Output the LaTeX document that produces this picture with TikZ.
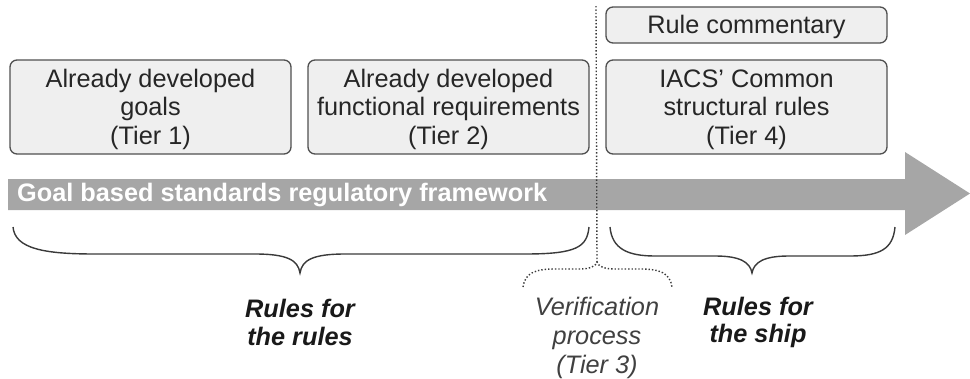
\documentclass[tikz,border=0pt]{standalone}
\usepackage{fontspec}
\setmainfont{Liberation Sans}
\definecolor{boxfill}{HTML}{EFEFEF}
\definecolor{boxline}{HTML}{505050}
\definecolor{arrowgray}{HTML}{A6A6A6}
\definecolor{bracecol}{HTML}{3A3A3A}
\newcommand{\boxtxt}[1]{\raisebox{-3pt}[\height][\depth]{\begin{tabular}{@{}c@{}}#1\end{tabular}}}
\begin{document}
\begin{tikzpicture}[x=1pt,y=-1pt,
  tierbox/.style={draw=boxline, fill=boxfill, line width=1.3pt, rounded corners=7pt,
    minimum width=281pt, inner sep=0pt, text=black!85,
    font=\fontsize{25.3}{28.5}\selectfont},
  bracepath/.style={draw=bracecol, line width=1.4pt},
  lbl/.style={align=center, inner sep=0pt, text=black!90}]
\useasboundingbox (0,0) rectangle (970,378);
% arrow
\path[fill=arrowgray] (8,179) -- (905,179) -- (905,152) -- (970,193.5) -- (905,235) -- (905,210) -- (8,210) -- cycle;
\node[anchor=west, inner sep=0pt, text=white, font=\fontsize{25.3}{28}\selectfont\bfseries] (gbs) at (17,195.5) {Goal based standards regulatory framework};
% boxes
\node[tierbox, minimum height=94pt] (t1) at (150.5,107) {\boxtxt{Already developed\\goals\\(Tier 1)}};
\node[tierbox, minimum height=94pt] (t2) at (448.5,107) {\boxtxt{Already developed\\functional requirements\\(Tier 2)}};
\node[tierbox, minimum height=94pt] (t4) at (746.5,107) {\boxtxt{IACS' Common\\structural rules\\(Tier 4)}};
\node[tierbox, minimum height=36pt] (rc) at (746.5,25) {\boxtxt{Rule commentary}};
% dotted divider
\coordinate (vtop) at (596,6);
\coordinate (vbot) at (597,262);
\draw[draw=bracecol, line width=1.4pt, dash pattern=on 1.4pt off 2pt] (vtop) -- (vbot);
% brace: rules for the rules
\coordinate (b1l) at (13,227);
\coordinate (b1r) at (589,227);
\coordinate (b1t) at (300,273);
\draw[bracepath] (b1l) .. controls (15,249) and (45,254) .. (95,254) -- (255,254)
  .. controls (287,254) and (298,260) .. (b1t)
  .. controls (302,260) and (313,254) .. (345,254) -- (525,254)
  .. controls (577,254) and (587,247) .. (b1r);
% brace: rules for the ship
\coordinate (b2l) at (610,227);
\coordinate (b2r) at (895,227);
\coordinate (b2t) at (752,273);
\draw[bracepath] (b2l) .. controls (612,249) and (628,256) .. (655,256) -- (715,256)
  .. controls (740,256) and (750,262) .. (b2t)
  .. controls (754,262) and (764,256) .. (789,256) -- (850,256)
  .. controls (880,256) and (893,249) .. (b2r);
% dotted brace: verification
\coordinate (b3l) at (523,287);
\coordinate (b3r) at (672,287);
\draw[draw=bracecol, line width=1.4pt, dash pattern=on 1.4pt off 2pt]
  (b3l) .. controls (525,273) and (535,269) .. (555,269) -- (580,269)
  .. controls (590,269) and (596,266) .. (vbot)
  .. controls (598,266) and (604,269) .. (614,269) -- (640,269)
  .. controls (660,269) and (670,273) .. (b3r);
% labels
\node[lbl, font=\fontsize{25.3}{27.5}\selectfont\bfseries\itshape] (rr) at (300,322.5) {Rules for\\the rules};
\node[lbl, font=\fontsize{25.3}{29}\selectfont\itshape, text=black!75] (vp) at (597,338) {Verification\\process\\(Tier 3)};
\node[lbl, font=\fontsize{25.3}{27.5}\selectfont\bfseries\itshape] (rs) at (758,322.5) {Rules for\\the ship};
\end{tikzpicture}
\end{document}
